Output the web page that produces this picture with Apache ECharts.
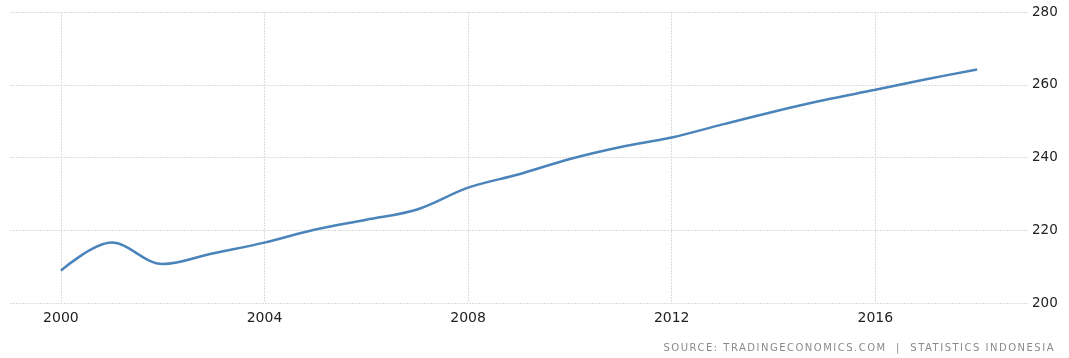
<!DOCTYPE html>
<html>
<head>
<meta charset="utf-8">
<script src="https://cdn.jsdelivr.net/npm/echarts@6/dist/echarts.min.js"></script>
<style>
  html, body { margin: 0; padding: 0; background: #fff; }
  #wrap { position: relative; width: 1069px; height: 358px; }
  #chart { width: 1069px; height: 358px; }
  /* footnote: zrender text has no letter spacing, so it sits on top as html */
  #source {
    position: absolute; right: 14px; bottom: 5px;
    font-family: 'DejaVu Sans'; font-size: 10px; letter-spacing: 1.5px;
    color: #8a8a8a; white-space: pre;
  }
</style>
</head>
<body>
<div id="wrap">
  <div id="chart"></div>
  <div id="source"></div>
</div>
<script>
// years with data
const years = [2000, 2001, 2002, 2003, 2004, 2005, 2006, 2007, 2008, 2009,
  2010, 2011, 2012, 2013, 2014, 2015, 2016, 2017, 2018];
// values
const values = [208.9, 216.6, 210.7, 213.7, 216.6, 220.2, 222.9, 225.7, 231.7, 235.4,
  239.6, 242.9, 245.5, 249.1, 252.6, 255.8, 258.6, 261.5, 264.2];
const yTicks = [200, 220, 240, 260, 280];
const sourceText = 'SOURCE: TRADINGECONOMICS.COM  |  STATISTICS INDONESIA';

document.getElementById('source').textContent = sourceText;

// pad one empty year each side so the grid runs past the data
const categories = [String(years[0] - 1)]
  .concat(years.map(String))
  .concat([String(years[years.length - 1] + 1)]);
const seriesData = [null].concat(values).concat([null]);

const showYear = (idx, val) => Number(val) % 4 === 0;

const chart = echarts.init(document.getElementById('chart'));
chart.setOption({
  animation: false,
  grid: { left: 10, right: 41, top: 12, bottom: 55 },
  xAxis: {
    type: 'category',
    data: categories,
    boundaryGap: false,
    axisLine: { show: false },
    axisTick: { show: false },
    axisLabel: {
      interval: showYear,
      margin: 8,
      fontFamily: 'DejaVu Sans',
      fontSize: 14,
      color: '#222'
    },
    splitLine: {
      show: true,
      interval: showYear,
      lineStyle: { color: '#dcdcdc', type: [2, 1], width: 1 }
    }
  },
  yAxis: {
    type: 'value',
    position: 'right',
    min: yTicks[0],
    max: yTicks[yTicks.length - 1],
    interval: 20,
    axisLine: { show: false },
    axisTick: { show: false },
    axisLabel: {
      margin: 4,
      fontFamily: 'DejaVu Sans',
      fontSize: 13.5,
      color: '#222'
    },
    splitLine: {
      lineStyle: { color: '#dcdcdc', type: [2, 1], width: 1 }
    }
  },
  series: [
    {
      type: 'line',
      data: seriesData,
      smooth: 0.35,
      showSymbol: false,
      connectNulls: false,
      lineStyle: { color: '#4a84ba', width: 2.5 }
    }
  ]
});
</script>
</body>
</html>
